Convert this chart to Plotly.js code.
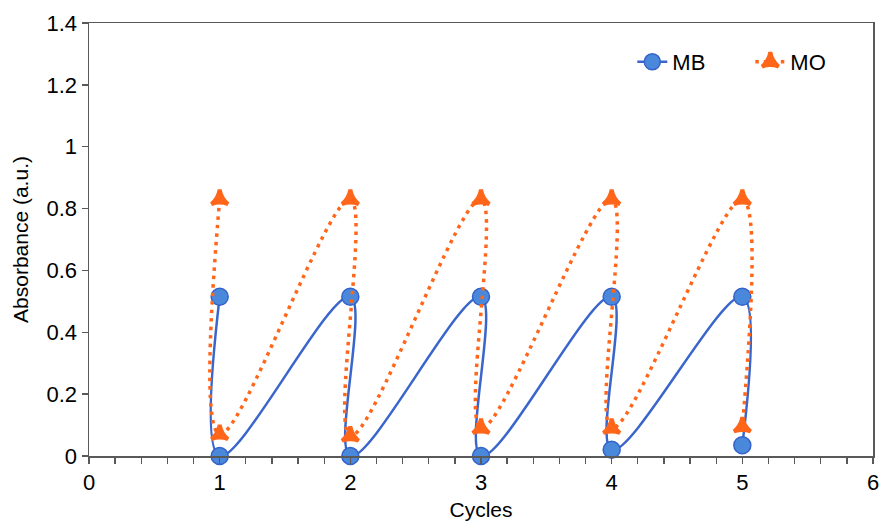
<!DOCTYPE html>
<html>
<head>
<meta charset="utf-8">
<script src="https://cdn.plot.ly/plotly-3.0.1.min.js"></script>
<style>html,body{margin:0;padding:0;background:#fff;}#chart{width:881px;height:521px;}</style>
</head>
<body>
<div id="chart"></div>
<script>
// Data
const mbCycles = [1, 1, 2, 2, 3, 3, 4, 4, 5, 5];
const mbValues = [0.515, 0.0, 0.515, 0.0, 0.515, 0.0, 0.515, 0.02, 0.515, 0.035];
const moCycles = [1, 1, 2, 2, 3, 3, 4, 4, 5, 5];
const moValues = [0.83, 0.07, 0.83, 0.065, 0.83, 0.09, 0.83, 0.09, 0.83, 0.095];
const xTickVals = [0, 1, 2, 3, 4, 5, 6];
const yTickVals = [0, 0.2, 0.4, 0.6, 0.8, 1.0, 1.2, 1.4];
const yTickText = ['0', '0.2', '0.4', '0.6', '0.8', '1', '1.2', '1.4'];

const axisColor = '#595959';
const fam = 'Liberation Sans, Arial, sans-serif';
const tickSize = 22;
const titleSize = 21;

const traces = [
  {
    x: mbCycles, y: mbValues, name: 'MB', type: 'scatter', mode: 'lines+markers',
    line: {color: '#3A66CC', width: 2.5, shape: 'spline', smoothing: 1},
    marker: {symbol: 'circle', size: 17, color: '#4A88DC', line: {color: '#3462C8', width: 1.5}},
    cliponaxis: false
  },
  {
    x: moCycles, y: moValues, name: 'MO', type: 'scatter', mode: 'lines+markers',
    line: {color: '#FF6619', width: 3.5, dash: '3.5px,5px', shape: 'spline', smoothing: 1},
    marker: {symbol: 'star-triangle-up', size: 12, color: '#FF6619', line: {color: '#FF6619', width: 4}},
    cliponaxis: false
  }
];

const layout = {
  width: 881, height: 521,
  margin: {l: 89, r: 8, t: 23, b: 65, autoexpand: false},
  paper_bgcolor: '#fff', plot_bgcolor: '#fff',
  font: {family: fam, size: tickSize, color: '#000'},
  showlegend: true,
  legend: {orientation: 'h', x: 0.693, xanchor: 'left', y: 0.91, yanchor: 'middle',
           entrywidth: 73, itemwidth: 30,
           font: {family: fam, size: tickSize, color: '#000'}, bgcolor: 'rgba(0,0,0,0)'},
  xaxis: {
    range: [0, 6], tickvals: xTickVals, ticktext: xTickVals.map(String),
    ticks: 'outside', ticklen: 6, tickwidth: 1.3, tickcolor: axisColor,
    minor: {dtick: 0.2, ticks: 'outside', ticklen: 6, tickwidth: 1.3, tickcolor: axisColor},
    showline: true, linecolor: axisColor, linewidth: 1.5, mirror: true,
    showgrid: false, zeroline: false, automargin: false,
    tickfont: {family: fam, size: tickSize, color: '#000'},
    title: {text: 'Cycles', font: {family: fam, size: titleSize, color: '#000'}, standoff: 10}
  },
  yaxis: {
    range: [0, 1.4], tickvals: yTickVals, ticktext: yTickText,
    ticks: 'outside', ticklen: 6, tickwidth: 1.3, tickcolor: axisColor,
    showline: true, linecolor: axisColor, linewidth: 1.5, mirror: true,
    showgrid: false, zeroline: false, automargin: false,
    tickfont: {family: fam, size: tickSize, color: '#000'},
    title: {text: 'Absorbance (a.u.)', font: {family: fam, size: titleSize, color: '#000'}, standoff: 12}
  }
};

Plotly.newPlot('chart', traces, layout, {staticPlot: true, displayModeBar: false});
</script>
</body>
</html>
